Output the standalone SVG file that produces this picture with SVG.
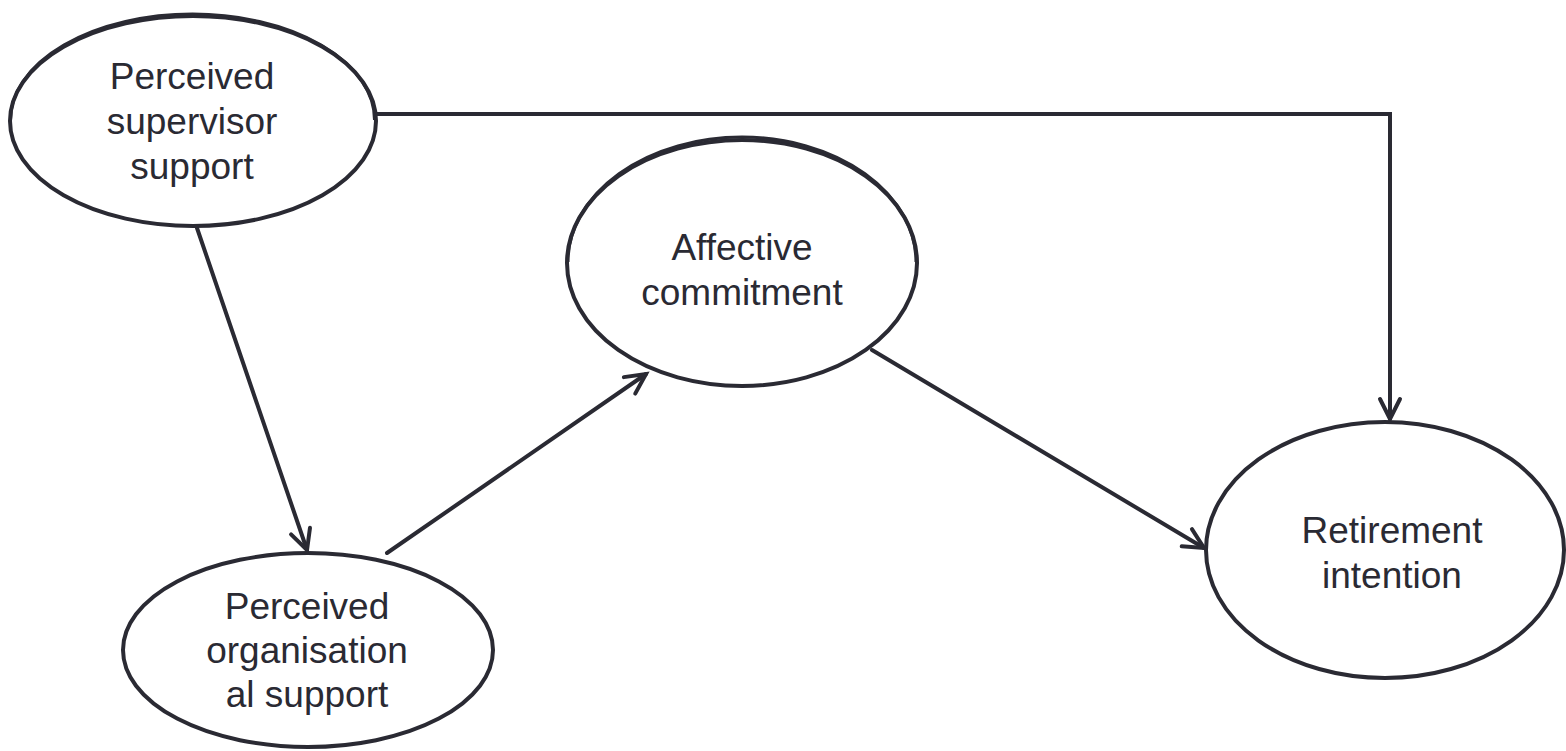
<svg xmlns="http://www.w3.org/2000/svg" width="1566" height="751" viewBox="0 0 1566 751">
  <style>
    .node { fill: #ffffff; stroke: #2a2a33; stroke-width: 4; }
    .dbl { fill: none; stroke: #2a2a33; stroke-width: 3; }
    .label { font-family: "Liberation Sans", Arial, sans-serif; font-size: 37px; fill: #2a2a33; text-anchor: middle; }
    .edge { fill: none; stroke: #2a2a33; stroke-width: 4; stroke-linecap: round; stroke-linejoin: miter; }
  </style>
  <defs>
    <marker id="arrow" markerUnits="userSpaceOnUse" markerWidth="40" markerHeight="40" refX="0" refY="0" orient="auto" viewBox="-30 -20 40 40" overflow="visible">
      <path d="M -20 -10 L 0 0 L -20 10" fill="none" stroke="#2a2a33" stroke-width="4" stroke-linecap="round" stroke-linejoin="miter"/>
    </marker>
  </defs>
  <rect width="1566" height="751" fill="#ffffff"/>

  <g id="connectors">
    <path class="edge" d="M 377 114 H 1390 V 419" marker-end="url(#arrow)"/>
    <path class="edge" d="M 197 228 L 307 550" marker-end="url(#arrow)"/>
    <path class="edge" d="M 387 553 L 646 374" marker-end="url(#arrow)"/>
    <path class="edge" d="M 872 350 L 1204 548" marker-end="url(#arrow)"/>
  </g>

  <g id="node-supervisor">
    <ellipse class="node" cx="193" cy="121" rx="183" ry="105"/>
    <path class="dbl" d="M 10.5 120 A 182 106 0 0 1 374.5 120"/>
    <text class="label" x="192" y="89">Perceived</text>
    <text class="label" x="192" y="134">supervisor</text>
    <text class="label" x="192" y="179">support</text>
  </g>

  <g id="node-organisational">
    <ellipse class="node" cx="308" cy="650" rx="185" ry="97"/>
    <text class="label" x="307" y="619">Perceived</text>
    <text class="label" x="307" y="663">organisation</text>
    <text class="label" x="307" y="707">al support</text>
  </g>

  <g id="node-affective">
    <ellipse class="node" cx="742" cy="263" rx="175" ry="123"/>
    <path class="dbl" d="M 568 262 A 174 125 0 0 1 916 262"/>
    <text class="label" x="742" y="260">Affective</text>
    <text class="label" x="742" y="305">commitment</text>
  </g>

  <g id="node-retirement">
    <ellipse class="node" cx="1385" cy="550" rx="179" ry="128"/>
    <text class="label" x="1392" y="543">Retirement</text>
    <text class="label" x="1392" y="588">intention</text>
  </g>
</svg>
